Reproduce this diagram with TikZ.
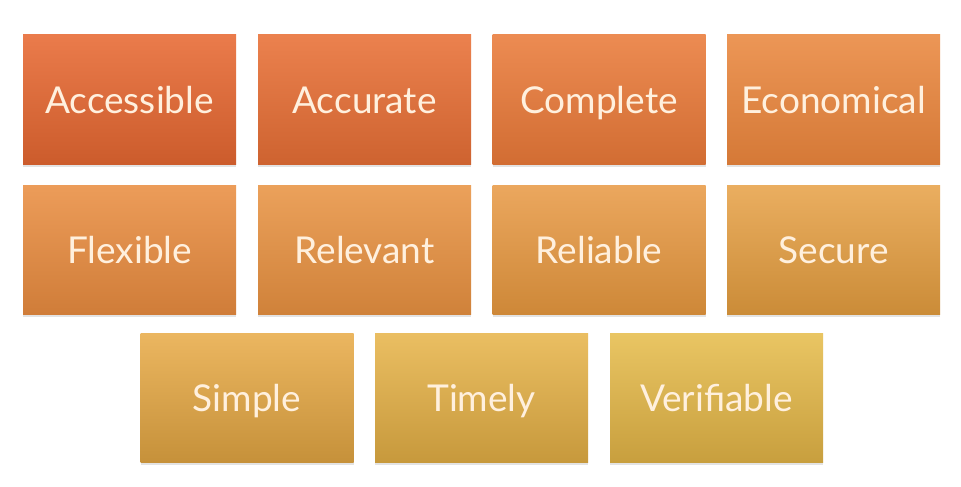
\documentclass[tikz,border=0pt]{standalone}
\usepackage{fontspec}
\setmainfont{Lato}
\usetikzlibrary{shadows}

% top / bottom colours of each tile
\definecolor{accT}{HTML}{EA7B4B}\definecolor{accB}{HTML}{CC5C2C}
\definecolor{acuT}{HTML}{EB814E}\definecolor{acuB}{HTML}{CE6330}
\definecolor{comT}{HTML}{EC8B52}\definecolor{comB}{HTML}{D26D33}
\definecolor{ecoT}{HTML}{EC9656}\definecolor{ecoB}{HTML}{D57937}
\definecolor{flxT}{HTML}{EC9C59}\definecolor{flxB}{HTML}{D07D39}
\definecolor{relT}{HTML}{EBA15B}\definecolor{relB}{HTML}{D0823A}
\definecolor{rliT}{HTML}{EBA75E}\definecolor{rliB}{HTML}{CE8838}
\definecolor{secT}{HTML}{EAAE60}\definecolor{secB}{HTML}{CB8C38}
\definecolor{simT}{HTML}{EBB660}\definecolor{simB}{HTML}{C6913A}
\definecolor{timT}{HTML}{EABE62}\definecolor{timB}{HTML}{C7993C}
\definecolor{verT}{HTML}{E9C563}\definecolor{verB}{HTML}{C89F3E}
\definecolor{tilefont}{HTML}{FFF0DE}

\tikzset{
  tile/.style args={#1/#2}{
    minimum width=213pt, minimum height=129pt, inner sep=0pt,
    top color=#1, middle color=#1!85!#2, bottom color=#2,
    drop shadow={opacity=0.22, shadow xshift=0pt, shadow yshift=-2.5pt},
    text=tilefont, font=\fontsize{37}{42}\selectfont,
    text height=28pt, text depth=1pt
  }
}

\begin{document}
\begin{tikzpicture}[x=1pt, y=-1pt]
  \fill[white] (0,0) rectangle (961,487);
  \useasboundingbox (0,0) rectangle (961,487);

  % first row
  \node[tile=accT/accB] (acc) at (129.5, 99.5) {Accessible};
  \node[tile=acuT/acuB] (acu) at (364.5, 99.5) {Accurate};
  \node[tile=comT/comB] (com) at (599,   99.5) {Complete};
  \node[tile=ecoT/ecoB] (eco) at (833.5, 99.5) {Economical};

  % second row
  \node[tile=flxT/flxB] (flx) at (129.5, 249.5) {Flexible};
  \node[tile=relT/relB] (rel) at (364.5, 249.5) {Relevant};
  \node[tile=rliT/rliB] (rli) at (599,   249.5) {Reliable};
  \node[tile=secT/secB] (sec) at (833.5, 249.5) {Secure};

  % third row
  \node[tile=simT/simB] (sim) at (247,   398) {Simple};
  \node[tile=timT/timB] (tim) at (481.5, 398) {Timely};
  \node[tile=verT/verB] (ver) at (716.5, 398) {Verifiable};
\end{tikzpicture}
\end{document}
